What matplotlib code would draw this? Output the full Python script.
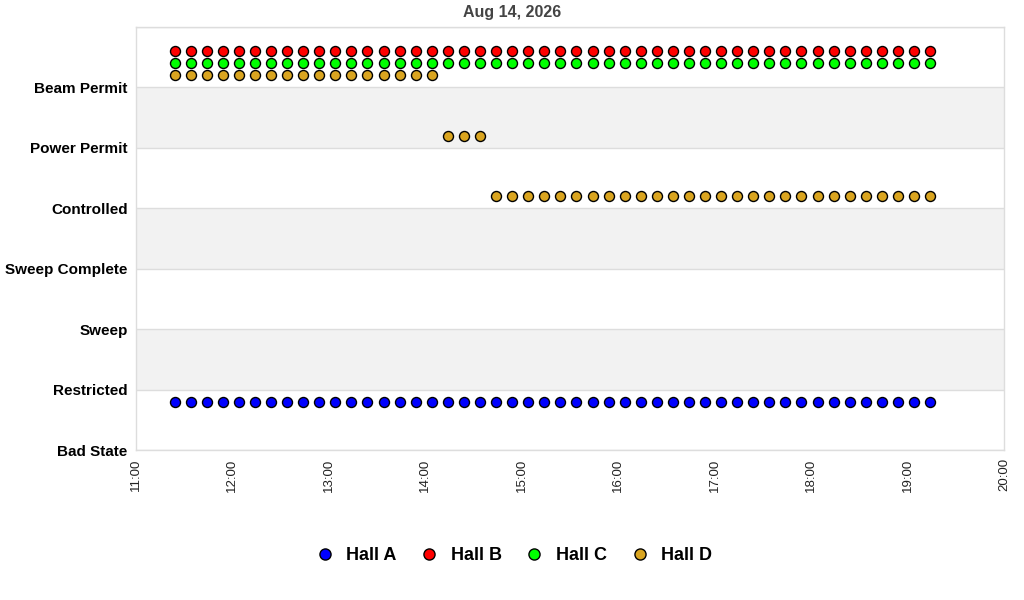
import matplotlib
matplotlib.use("Agg")
import matplotlib.pyplot as plt
import matplotlib.dates as mdates
from matplotlib.lines import Line2D
import pandas as pd

plt.rcParams['font.family'] = ['Liberation Sans', 'DejaVu Sans']

title = "Aug 14, 2026"
states = ["Bad State", "Restricted", "Sweep", "Sweep Complete",
          "Controlled", "Power Permit", "Beam Permit"]

times = ["11:24", "11:34", "11:44", "11:54", "12:04", "12:14", "12:24", "12:34",
         "12:44", "12:54", "13:04", "13:14", "13:24", "13:34", "13:44", "13:54",
         "14:04", "14:14", "14:24", "14:34", "14:44", "14:54", "15:04", "15:14",
         "15:24", "15:34", "15:44", "15:54", "16:04", "16:14", "16:24", "16:34",
         "16:44", "16:54", "17:04", "17:14", "17:24", "17:34", "17:44", "17:54",
         "18:04", "18:14", "18:24", "18:34", "18:44", "18:54", "19:04", "19:14"]

hall_a = ["Restricted"] * 48
hall_b = ["Beam Permit"] * 48
hall_c = ["Beam Permit"] * 48
hall_d = ["Beam Permit"] * 17 + ["Power Permit"] * 3 + ["Controlled"] * 28

series = [("Hall A", hall_a, "#0000ff", -0.2),
          ("Hall B", hall_b, "#ff0000", 0.6),
          ("Hall C", hall_c, "#00ff00", 0.4),
          ("Hall D", hall_d, "#daa520", 0.2)]

day = "2026-08-14 "
x = pd.to_datetime([day + t for t in times])

fig = plt.figure(figsize=(10.24, 6.0), dpi=100)
ax = fig.add_axes([136/1024, 1 - 450/600, 868/1024, 423/600])

# alternating bands
for i in range(1, 7, 2):
    ax.axhspan(i, i + 1, color="#f2f2f2", zorder=0, lw=0)
for i in range(0, 8):
    ax.axhline(i, color="#dddddd", lw=1, zorder=0.5)

for name, vals, col, off in series:
    y = [states.index(v) + off for v in vals]
    ax.plot(x, y, linestyle="none", marker="o", markersize=7.2,
            markerfacecolor=col, markeredgecolor="black", markeredgewidth=1.0,
            zorder=3)

ax.set_ylim(0, 7)
ax.set_yticks(range(len(states)))
ax.set_yticklabels(states, fontsize=11, fontweight="bold")
ax.set_xlim(pd.Timestamp(day + "11:00"), pd.Timestamp(day + "20:00"))
ax.xaxis.set_major_locator(mdates.HourLocator())
ax.xaxis.set_major_formatter(mdates.DateFormatter("%H:%M"))
for lbl in ax.get_xticklabels():
    lbl.set_rotation(90)
ax.tick_params(axis="x", labelsize=9.5, length=0, pad=6, labelcolor="#222222")
ax.tick_params(axis="y", length=0, pad=6)
for sp in ax.spines.values():
    sp.set_color("#dddddd")
    sp.set_linewidth(1)

fig.text(0.5, 1 - 13/600, title, ha="center", va="center",
         fontsize=11.5, fontweight="bold", color="#444444")

handles = [Line2D([], [], linestyle="none", marker="o", markersize=8,
                  markerfacecolor=col, markeredgecolor="black",
                  markeredgewidth=1.0) for _, _, col, _ in series]
fig.legend(handles, [s[0] for s in series], loc="center",
           bbox_to_anchor=(0.502, 1 - 556/600), ncol=4, frameon=False,
           prop={"size": 13, "weight": "bold"}, handletextpad=0.7,
           columnspacing=1.3, handlelength=1.0)

fig.savefig("out.png", dpi=100)
